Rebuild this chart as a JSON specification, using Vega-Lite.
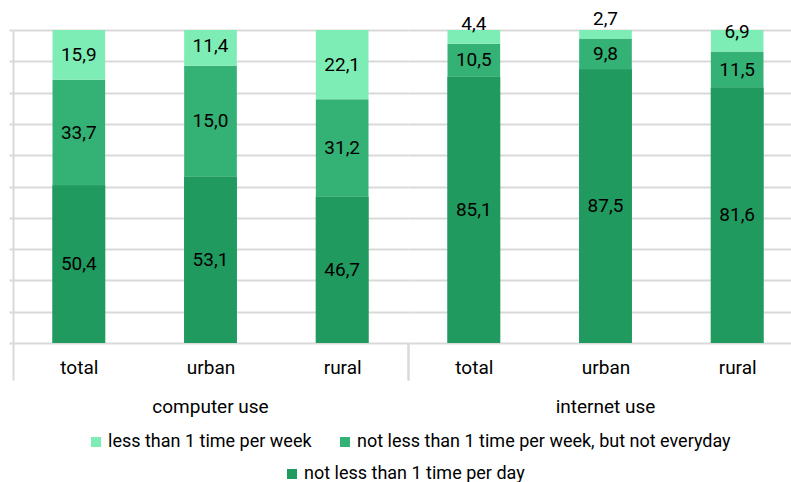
{
  "$schema": "https://vega.github.io/schema/vega-lite/v6.json",
  "autosize": {"type": "pad"},
  "padding": {"left": 8, "top": 10, "right": 0, "bottom": 0},
  "background": "white",
  "config": {
    "font": "Roboto",
    "view": {"stroke": null},
    "legend": {"padding": 0, "labelLimit": 0}
  },
  "data": {
    "values": [
      {"group": "computer use", "cat": "total", "series": "not less than 1 time per day", "value": 50.4, "label": "50,4"},
      {"group": "computer use", "cat": "total", "series": "not less than 1 time per week, but not everyday", "value": 33.7, "label": "33,7"},
      {"group": "computer use", "cat": "total", "series": "less than 1 time per week", "value": 15.9, "label": "15,9"},
      {"group": "computer use", "cat": "urban", "series": "not less than 1 time per day", "value": 53.1, "label": "53,1"},
      {"group": "computer use", "cat": "urban", "series": "not less than 1 time per week, but not everyday", "value": 35.5, "label": "15,0"},
      {"group": "computer use", "cat": "urban", "series": "less than 1 time per week", "value": 11.4, "label": "11,4"},
      {"group": "computer use", "cat": "rural", "series": "not less than 1 time per day", "value": 46.7, "label": "46,7"},
      {"group": "computer use", "cat": "rural", "series": "not less than 1 time per week, but not everyday", "value": 31.2, "label": "31,2"},
      {"group": "computer use", "cat": "rural", "series": "less than 1 time per week", "value": 22.1, "label": "22,1"},
      {"group": "internet use", "cat": "total", "series": "not less than 1 time per day", "value": 85.1, "label": "85,1"},
      {"group": "internet use", "cat": "total", "series": "not less than 1 time per week, but not everyday", "value": 10.5, "label": "10,5"},
      {"group": "internet use", "cat": "total", "series": "less than 1 time per week", "value": 4.4, "label": "4,4"},
      {"group": "internet use", "cat": "urban", "series": "not less than 1 time per day", "value": 87.5, "label": "87,5"},
      {"group": "internet use", "cat": "urban", "series": "not less than 1 time per week, but not everyday", "value": 9.8, "label": "9,8"},
      {"group": "internet use", "cat": "urban", "series": "less than 1 time per week", "value": 2.7, "label": "2,7"},
      {"group": "internet use", "cat": "rural", "series": "not less than 1 time per day", "value": 81.6, "label": "81,6"},
      {"group": "internet use", "cat": "rural", "series": "not less than 1 time per week, but not everyday", "value": 11.5, "label": "11,5"},
      {"group": "internet use", "cat": "rural", "series": "less than 1 time per week", "value": 6.9, "label": "6,9"}
    ]
  },
  "transform": [
    {"calculate": "indexof(['not less than 1 time per day','not less than 1 time per week, but not everyday','less than 1 time per week'], datum.series)", "as": "ord"},
    {"stack": "value", "groupby": ["group", "cat"], "sort": [{"field": "ord", "order": "ascending"}], "as": ["v0", "v1"]},
    {"calculate": "datum.ord == 2 ? max((datum.v0 + datum.v1) / 2, datum.v0 + 6.2) : (datum.v0 + datum.v1) / 2", "as": "lp"}
  ],
  "facet": {
    "column": {
      "field": "group",
      "type": "nominal",
      "sort": ["computer use", "internet use"],
      "header": {"title": null, "labelOrient": "bottom", "labelFontSize": 19, "labelColor": "black", "labelPadding": 17, "labelFont": "Roboto"}
    }
  },
  "spacing": 0,
  "spec": {
    "width": 395,
    "height": 313,
    "layer": [
      {
        "mark": {"type": "bar", "width": {"band": 0.4}},
        "encoding": {
          "x": {
            "field": "cat", "type": "nominal", "sort": ["total", "urban", "rural"],
            "scale": {"paddingInner": 0, "paddingOuter": 0},
            "axis": {
              "title": null, "domain": false, "tickBand": "extent", "tickSize": 37,
              "tickColor": "#d9d9d9", "tickWidth": 2,
              "tickOpacity": {"condition": {"test": "datum.value === 'rural' || datum.index < 0 || !datum.value", "value": 1}, "value": 0},
              "labelAngle": 0, "labelFontSize": 19, "labelColor": "black", "labelPadding": -22, "labelFont": "Roboto"
            }
          },
          "y": {
            "field": "v0", "type": "quantitative",
            "scale": {"domain": [0, 100], "nice": false},
            "axis": {
              "title": null, "labels": false, "values": [0, 10, 20, 30, 40, 50, 60, 70, 80, 90, 100],
              "tickSize": 4, "tickColor": "#d9d9d9", "tickWidth": 2,
              "domainColor": "#d9d9d9", "domainWidth": 2,
              "grid": true, "gridColor": "#d9d9d9", "gridWidth": 2
            }
          },
          "y2": {"field": "v1"},
          "color": {
            "field": "series", "type": "nominal",
            "scale": {
              "domain": ["less than 1 time per week", "not less than 1 time per week, but not everyday", "not less than 1 time per day"],
              "range": ["#7DEDB5", "#34B174", "#219A5F"]
            },
            "legend": {
              "title": null,
              "values": ["less than 1 time per week", "not less than 1 time per week, but not everyday"],
              "orient": "none", "legendX": 74, "legendY": 403, "direction": "horizontal",
              "symbolType": "square", "symbolSize": 100, "symbolStrokeWidth": 0,
              "labelFontSize": 18, "labelColor": "black", "labelFont": "Roboto",
              "labelOffset": 3, "columnPadding": 24
            }
          }
        }
      },
      {
        "transform": [{"filter": "datum.ord == 0"}],
        "mark": {"type": "bar", "width": {"band": 0.4}},
        "encoding": {
          "x": {"field": "cat", "type": "nominal", "sort": ["total", "urban", "rural"]},
          "y": {
            "field": "v0", "type": "quantitative",
            "axis": {
              "title": null, "labels": false, "values": [0, 10, 20, 30, 40, 50, 60, 70, 80, 90, 100],
              "tickSize": 4, "tickColor": "#d9d9d9", "tickWidth": 2,
              "domainColor": "#d9d9d9", "domainWidth": 2,
              "grid": true, "gridColor": "#d9d9d9", "gridWidth": 2
            }
          },
          "y2": {"field": "v1"},
          "fill": {
            "field": "series", "type": "nominal",
            "scale": {"domain": ["not less than 1 time per day"], "range": ["#219A5F"]},
            "legend": {
              "title": null, "orient": "none", "legendX": 270, "legendY": 435, "direction": "horizontal",
              "symbolType": "square", "symbolSize": 100, "symbolStrokeWidth": 0,
              "labelFontSize": 18, "labelColor": "black", "labelFont": "Roboto", "labelOffset": 3
            }
          }
        }
      },
      {
        "mark": {"type": "text", "fontSize": 19, "color": "black", "font": "Roboto"},
        "encoding": {
          "x": {"field": "cat", "type": "nominal", "sort": ["total", "urban", "rural"]},
          "y": {
            "field": "lp", "type": "quantitative",
            "axis": {
              "title": null, "labels": false, "values": [0, 10, 20, 30, 40, 50, 60, 70, 80, 90, 100],
              "tickSize": 4, "tickColor": "#d9d9d9", "tickWidth": 2,
              "domainColor": "#d9d9d9", "domainWidth": 2,
              "grid": true, "gridColor": "#d9d9d9", "gridWidth": 2
            }
          },
          "text": {"field": "label", "type": "nominal"}
        }
      }
    ]
  }
}
